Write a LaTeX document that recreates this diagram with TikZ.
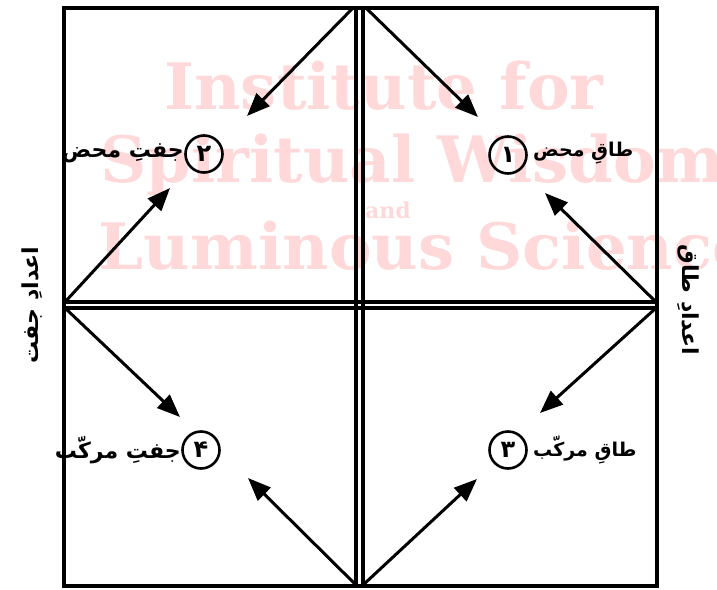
\documentclass[tikz,border=0pt]{standalone}
\usepackage{fontspec}
\usetikzlibrary{arrows.meta}
\TeXXeTstate=1
\newfontfamily\urdu[Script=Arabic]{DejaVu Sans}
\newfontfamily\wmfont{DejaVu Serif}
\begin{document}
\begin{tikzpicture}[x=1pt,y=-1pt,
  frame/.style={line width=3.2pt},
  arr/.style={line width=3pt,-{Triangle[length=23pt,width=18pt]}},
  numc/.style={circle,draw,line width=2.6pt,minimum size=37pt,inner sep=0pt,font=\urdu\fontsize{24}{24}\selectfont\bfseries},
  lbl/.style={font=\urdu\fontsize{22}{22}\selectfont\bfseries,inner sep=0pt},
  lbls/.style={font=\urdu\fontsize{19}{19}\selectfont\bfseries,inner sep=0pt},
  wm/.style={text=red!15,inner sep=0pt}]
\useasboundingbox (0,0) rectangle (717,589);
% watermark
\begin{scope}
\clip (0,0) rectangle (717,589);
\node[wm,font=\wmfont\bfseries\fontsize{64}{64}\selectfont] (w1) at (384,86) {Institute for};
\node[wm,font=\wmfont\bfseries\fontsize{64}{64}\selectfont] (w2) at (412,165) {Spiritual Wisdom};
\node[wm,font=\wmfont\bfseries\fontsize{22}{22}\selectfont] (w3) at (388,210) {and};
\node[wm,font=\wmfont\bfseries\fontsize{64}{64}\selectfont] (w4) at (426,246) {Luminous Science};
\end{scope}
% frame
\draw[frame] (64,8) rectangle (657,586);
\draw[frame] (356,8) -- (356,586);
\draw[frame] (363,8) -- (363,586);
\draw[frame] (64,302) -- (657,302);
\draw[frame] (64,308) -- (657,308);
% apexes
\coordinate (tl) at (352,9);
\coordinate (tr) at (367,9);
\coordinate (lu) at (65,302);
\coordinate (ld) at (65,308);
\coordinate (ru) at (656,302);
\coordinate (rd) at (656,308);
\coordinate (bl) at (356,585);
\coordinate (br) at (363,585);
% tips
\coordinate (t1) at (247,116);
\coordinate (t2) at (478,117);
\coordinate (t3) at (170,188);
\coordinate (t4) at (545,193);
\coordinate (t5) at (180,417);
\coordinate (t6) at (540,413);
\coordinate (t7) at (248,478);
\coordinate (t8) at (477,479);
\draw[arr] (tl) -- (t1);
\draw[arr] (tr) -- (t2);
\draw[arr] (lu) -- (t3);
\draw[arr] (ru) -- (t4);
\draw[arr] (ld) -- (t5);
\draw[arr] (rd) -- (t6);
\draw[arr] (bl) -- (t7);
\draw[arr] (br) -- (t8);
% circles
\node[numc] (c1) at (508,155) {۱};
\node[numc] (c2) at (204,154) {۲};
\node[numc] (c3) at (508,450) {۳};
\node[numc] (c4) at (201,450) {۴};
% labels
\node[lbls,anchor=west] (l1) at (533,153) {\beginR طاقِ محض\endR};
\node[lbl,anchor=east] (l2) at (184,153) {\beginR جفتِ محض\endR};
\node[lbls,anchor=west] (l3) at (533,450) {\beginR طاقِ مرکّب\endR};
\node[lbl,anchor=east] (l4) at (181,450) {\beginR جفتِ مرکّب\endR};
\node[lbl,rotate=-90] (sr) at (688,300) {\beginR اعدادِ طاق\endR};
\node[lbl,rotate=90] (sl) at (32,305) {\beginR اعدادِ جفت\endR};
\end{tikzpicture}
\end{document}
